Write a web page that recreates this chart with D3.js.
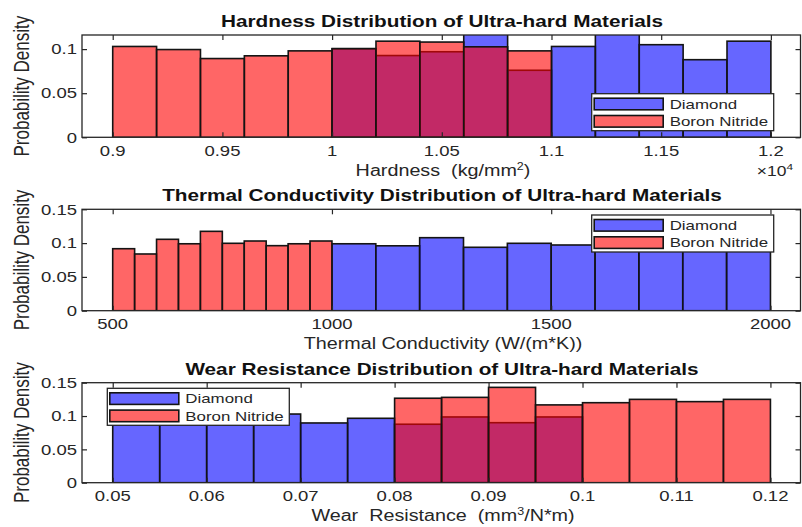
<!DOCTYPE html>
<html lang="en">
<head>
<meta charset="UTF-8">
<script src="https://cdn.jsdelivr.net/npm/d3@7/dist/d3.min.js"></script>
<title>Ultra-hard Materials</title>
<style>
  body { margin: 0; background: #fff; }
  text { font-family: "Liberation Sans", Arial, Helvetica, sans-serif; fill: #262626; white-space: pre; }
</style>
</head>
<body>
<script>
// hardness (kg/mm^2), probability per bin
var hardEdgesDiamond = [10000, 10200, 10400, 10600, 10800, 11000, 11200, 11400, 11600, 11800, 12000];
var hardDiamond      = [0.1005, 0.0927, 0.097, 0.119, 0.076, 0.103, 0.121, 0.105, 0.088, 0.109];
var hardEdgesBN      = [9000, 9200, 9400, 9600, 9800, 10000, 10200, 10400, 10600, 10800, 11000];
var hardBN           = [0.103, 0.0995, 0.0893, 0.0924, 0.098, 0.1005, 0.109, 0.108, 0.1026, 0.098];

// thermal conductivity W/(m*K)
var thermEdgesDiamond = [1000, 1100, 1200, 1300, 1400, 1500, 1600, 1700, 1800, 1900, 2000];
var thermDiamond      = [0.099, 0.096, 0.108, 0.0938, 0.0997, 0.0972, 0.101, 0.102, 0.100, 0.103];
var thermEdgesBN      = [500, 550, 600, 650, 700, 750, 800, 850, 900, 950, 1000];
var thermBN           = [0.0917, 0.0839, 0.1056, 0.099, 0.1174, 0.0997, 0.1031, 0.0962, 0.099, 0.1031];

// wear resistance mm^3/N*m
var wearEdgesDiamond = [0.05, 0.055, 0.06, 0.065, 0.07, 0.075, 0.08, 0.085, 0.09, 0.095, 0.10];
var wearDiamond      = [0.112, 0.110, 0.114, 0.103, 0.0896, 0.0966, 0.0877, 0.0986, 0.090, 0.0986];
var wearEdgesBN      = [0.08, 0.085, 0.09, 0.095, 0.10, 0.105, 0.11, 0.115, 0.12];
var wearBN           = [0.1267, 0.128, 0.143, 0.1167, 0.12, 0.125, 0.1216, 0.125];

var hardTicks  = [9000, 9500, 10000, 10500, 11000, 11500, 12000];
var hardLabels = ["0.9", "0.95", "1", "1.05", "1.1", "1.15", "1.2"];
var thermTicks = [500, 1000, 1500, 2000];
var wearTicks  = [0.05, 0.06, 0.07, 0.08, 0.09, 0.1, 0.11, 0.12];
var yTicksShort = [0, 0.05, 0.1];
var yTicksLong  = [0, 0.05, 0.1, 0.15];

var seriesNames = ["Diamond", "Boron Nitride"];

var W = 802, H = 527;
var left = 82, right = 800.5;
var sx = 1.25; // text in the picture is stretched sideways

var panels = [
  { title: "Hardness Distribution of Ultra-hard Materials",
    xlabel: [["Hardness  (kg/mm", 0], ["2", 1], [")", 0]],
    top: 35, bottom: 137.3, xdom: [8860, 12135], ydom: [0, 0.116],
    xticks: hardTicks, xfmt: function(d, i) { return hardLabels[i]; }, yticks: yTicksShort,
    dia: [hardEdgesDiamond, hardDiamond], bn: [hardEdgesBN, hardBN],
    legend: [591.7, 93.7], exponent: true },
  { title: "Thermal Conductivity Distribution of Ultra-hard Materials",
    xlabel: [["Thermal Conductivity (W/(m*K))", 0]],
    top: 209.3, bottom: 310.7, xdom: [430, 2068.5], ydom: [0, 0.15],
    xticks: thermTicks, xfmt: function(d) { return d; }, yticks: yTicksLong,
    dia: [thermEdgesDiamond, thermDiamond], bn: [thermEdgesBN, thermBN],
    legend: [591.7, 215] },
  { title: "Wear Resistance Distribution of Ultra-hard Materials",
    xlabel: [["Wear  Resistance  (mm", 0], ["3", 1], ["/N*m)", 0]],
    top: 382.7, bottom: 482.7, xdom: [0.04673, 0.1232], ydom: [0, 0.15],
    xticks: wearTicks, xfmt: function(d) { return String(+d.toFixed(2)); }, yticks: yTicksLong,
    dia: [wearEdgesDiamond, wearDiamond], bn: [wearEdgesBN, wearBN],
    legend: [107.3, 388.3] }
];

var svg = d3.select("body").append("svg")
  .attr("width", W).attr("height", H);

function label(g, x, y, str, size, anchor, weight, rot) {
  return g.append("text")
    .attr("transform", "translate(" + x + "," + y + ") scale(" + sx + ",1)" + (rot ? " rotate(" + rot + ")" : ""))
    .attr("text-anchor", anchor || "middle")
    .attr("font-size", size)
    .attr("font-weight", weight || "normal")
    .text(str);
}

function bars(g, x, y, edges, vals, color) {
  var bins = vals.map(function(v, i) { return { x0: edges[i], x1: edges[i + 1], v: v }; });
  g.selectAll(null).data(bins).enter().append("rect")
    .attr("x", function(d) { return x(d.x0); })
    .attr("width", function(d) { return x(d.x1) - x(d.x0); })
    .attr("y", function(d) { return y(d.v); })
    .attr("height", function(d) { return y(0) - y(d.v); })
    .attr("fill", color).attr("fill-opacity", 0.6)
    .attr("stroke", "#141414").attr("stroke-width", 1.6);
}

panels.forEach(function(p, k) {
  var x = d3.scaleLinear().domain(p.xdom).range([left, right]);
  var y = d3.scaleLinear().domain(p.ydom).range([p.bottom, p.top]);
  var g = svg.append("g");

  g.append("clipPath").attr("id", "clip" + k).append("rect")
    .attr("x", left).attr("y", p.top).attr("width", right - left).attr("height", p.bottom - p.top);

  var plot = g.append("g").attr("clip-path", "url(#clip" + k + ")");
  bars(plot, x, y, p.dia[0], p.dia[1], "#0000ff");
  bars(plot, x, y, p.bn[0], p.bn[1], "#ff0000");

  // axes: ticks inward on all four sides
  var tl = 5;
  g.append("g").attr("transform", "translate(0," + p.bottom + ")")
    .call(d3.axisBottom(x).tickValues(p.xticks).tickSizeInner(-tl).tickSizeOuter(0).tickFormat(""));
  g.append("g").attr("transform", "translate(0," + p.top + ")")
    .call(d3.axisTop(x).tickValues(p.xticks).tickSizeInner(-tl).tickSizeOuter(0).tickFormat(""));
  g.append("g").attr("transform", "translate(" + left + ",0)")
    .call(d3.axisLeft(y).tickValues(p.yticks).tickSizeInner(-tl).tickSizeOuter(0).tickFormat(""));
  g.append("g").attr("transform", "translate(" + right + ",0)")
    .call(d3.axisRight(y).tickValues(p.yticks).tickSizeInner(-tl).tickSizeOuter(0).tickFormat(""));
  g.selectAll(".domain").remove();
  g.selectAll(".tick line").attr("stroke", "#262626").attr("stroke-width", 1.2);
  g.append("rect").attr("x", left).attr("y", p.top)
    .attr("width", right - left).attr("height", p.bottom - p.top)
    .attr("fill", "none").attr("stroke", "#262626").attr("stroke-width", 1.3);

  p.xticks.forEach(function(t, i) {
    label(g, x(t), p.bottom + 18.3, p.xfmt(t, i), 14.8, "middle");
  });
  p.yticks.forEach(function(t) {
    label(g, 77, y(t) + 5.2, String(t), 14.8, "end");
  });

  label(g, 442, p.top - 8, p.title, 16.6, "middle", "bold").style("fill", "#111");

  var xl = label(g, 443, p.bottom + 38.5, "", 15.8, "middle");
  p.xlabel.forEach(function(part) {
    var ts = xl.append("tspan").text(part[0]);
    if (part[1]) ts.attr("font-size", 10).attr("dy", -6);
    else if (xl.selectAll("tspan").size() > 1) ts.attr("dy", 6);
  });

  label(g, 29, (p.top + p.bottom) / 2, "Probability Density", 17, "middle", "normal", -90);

  if (p.exponent) {
    var ex = label(g, 793, p.bottom + 38.5, "\u00d710", 14, "end");
    ex.append("tspan").attr("font-size", 9.5).attr("dy", -6).text("4");
  }

  // legend
  var lx = p.legend[0], ly = p.legend[1];
  var lg = g.append("g").attr("transform", "translate(" + lx + "," + ly + ")");
  lg.append("rect").attr("width", 182).attr("height", 37)
    .attr("fill", "#fff").attr("stroke", "#262626").attr("stroke-width", 1.3);
  [["#0000ff", 4.5], ["#ff0000", 21.8]].forEach(function(s, i) {
    lg.append("rect").attr("x", 2.5).attr("y", s[1]).attr("width", 69).attr("height", 11.6)
      .attr("fill", s[0]).attr("fill-opacity", 0.6)
      .attr("stroke", "#141414").attr("stroke-width", 1.6);
    label(lg, 78, s[1] + 10.6, seriesNames[i], 13.5, "start");
  });
});
</script>
</body>
</html>
